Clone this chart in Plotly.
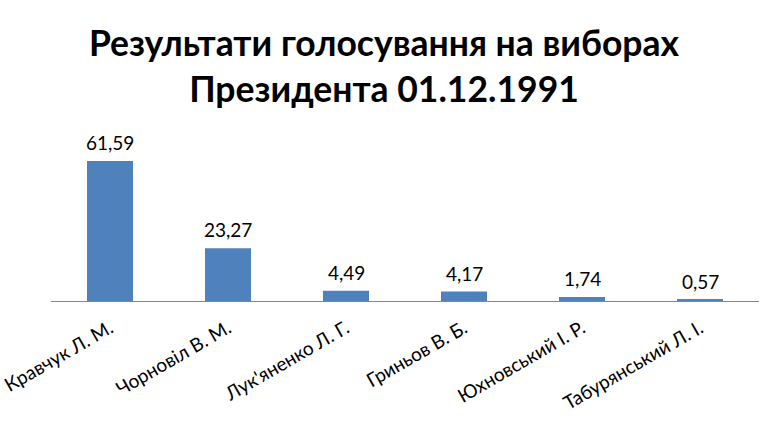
import plotly.graph_objects as go

candidates = ["Кравчук Л. М.", "Чорновіл В. М.", "Лук'яненко Л. Г.", "Гриньов В. Б.", "Юхновський І. Р.", "Табурянський Л. І."]
percent = [61.59, 23.27, 4.49, 4.17, 1.74, 0.57]
labels = ["61,59", "23,27", "4,49", "4,17", "1,74", "0,57"]

fig = go.Figure(go.Bar(
    x=candidates, y=percent,
    marker=dict(color="#4F81BD", line=dict(width=0)),
    cliponaxis=False, hoverinfo="skip",
))
for c, v, t in zip(candidates, percent, labels):
    fig.add_annotation(x=c, y=v, text=t, showarrow=False, yanchor="bottom", yshift=5,
                       font=dict(size=19, family="Lato", color="#000000"))
fig.update_layout(
    width=768, height=443,
    margin=dict(l=51, r=9, t=142, b=142),
    paper_bgcolor="white", plot_bgcolor="white",
    font=dict(family="Lato", color="#000000"),
    title=dict(text="<b>Результати голосування на виборах<br>Президента 01.12.1991</b>",
               x=0.5, xanchor="center", y=1 - 56/443, yanchor="top", yref="container",
               font=dict(size=35.5, family="Lato", color="#000000")),
    bargap=0.61,
    showlegend=False,
)
fig.update_xaxes(tickangle=-30, tickfont=dict(size=19), showline=True, linecolor="#868686",
                 linewidth=1, ticks="", showgrid=False, automargin=False, ticklabelstandoff=8)
fig.update_yaxes(range=[0, 70], visible=False, automargin=False)
fig.write_html("out.html", config={"displayModeBar": False},
               post_script="document.body.style.margin='0';document.body.style.padding='0';")
